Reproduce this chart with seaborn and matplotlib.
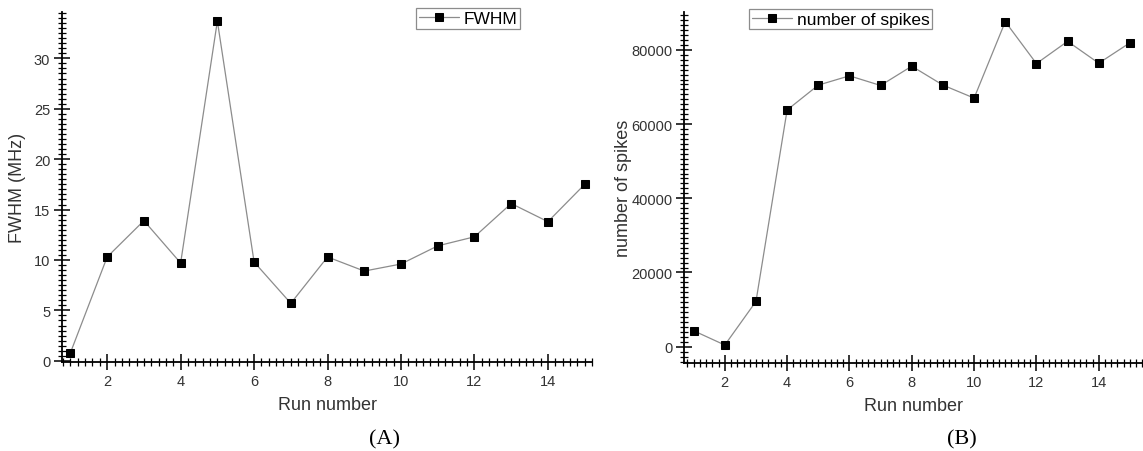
import numpy as np
import pandas as pd
import matplotlib
matplotlib.use("Agg")
import matplotlib.pyplot as plt
from matplotlib.ticker import MultipleLocator, AutoMinorLocator
import seaborn as sns

# ---- data ----
runs = [1, 2, 3, 4, 5, 6, 7, 8, 9, 10, 11, 12, 13, 14, 15]
fwhm = [0.8, 10.3, 13.9, 9.7, 33.7, 9.8, 5.7, 10.3, 8.9, 9.6, 11.4, 12.3, 15.6, 13.8, 17.5]
spikes = [4300, 450, 12200, 63800, 70500, 73000, 70400, 75600, 70500, 67000,
          87600, 76300, 82300, 76400, 81900]
xticks = [2, 4, 6, 8, 10, 12, 14]
yticks_a = [0, 5, 10, 15, 20, 25, 30]
yticks_b = [0, 20000, 40000, 60000, 80000]

sns.set_theme(style="ticks")
plt.rcParams['font.family'] = ['Liberation Sans', 'DejaVu Sans']
TXT = '#333333'

W, H = 1143, 452
fig = plt.figure(figsize=(W / 100, H / 100), dpi=100)

def fig_rect(x0, y0, x1, y1):
    return [x0 / W, 1 - y1 / H, (x1 - x0) / W, (y1 - y0) / H]

ax1 = fig.add_axes(fig_rect(62, 13, 592, 363.3))
ax2 = fig.add_axes(fig_rect(684.3, 13, 1143, 364.3))

df_a = pd.DataFrame({'run': runs, 'fwhm': fwhm})
df_b = pd.DataFrame({'run': runs, 'spikes': spikes})

style = dict(marker='s', color='#8c8c8c', markerfacecolor='black', markeredgecolor='black',
             markersize=6, linewidth=0.9)
sns.lineplot(data=df_a, x='run', y='fwhm', label='FWHM', ax=ax1, **style)
sns.lineplot(data=df_b, x='run', y='spikes', label='number of spikes', ax=ax2, **style)

ax1.set_xlim(0.77, 15.2)
ax1.set_ylim(-0.15, 34.6)
ax2.set_xlim(0.70, 15.42)
ax2.set_ylim(-4470, 90200)

for ax in (ax1, ax2):
    ax.set_xticks(xticks)
    ax.xaxis.set_minor_locator(MultipleLocator(0.2))
    for s in ('top', 'right'):
        ax.spines[s].set_visible(False)
    for s in ('left', 'bottom'):
        ax.spines[s].set_linewidth(1.3)
        ax.spines[s].set_color('black')
    ax.tick_params(which='major', direction='inout', length=11, width=1.1, color='black',
                   labelsize=10.5, labelcolor=TXT, pad=3)
    ax.tick_params(which='minor', direction='inout', length=6, width=0.9, color='black')
    ax.set_xlabel('Run number', fontsize=13, color=TXT)
    ax.xaxis.set_label_coords(0.5, -0.095)

ax1.set_yticks(yticks_a)
ax1.yaxis.set_minor_locator(MultipleLocator(0.5))
ax2.set_yticks(yticks_b)
ax2.set_yticklabels([str(v) for v in yticks_b])
ax2.yaxis.set_minor_locator(AutoMinorLocator(15))

ax1.set_ylabel('FWHM (MHz)', fontsize=13, color=TXT)
ax1.yaxis.set_label_coords((18 - 62) / 530, 0.5)
ax1.yaxis.label.set_verticalalignment('center')
ax2.set_ylabel('number of spikes', fontsize=13, color=TXT)
ax2.yaxis.set_label_coords((623 - 684.3) / 458.7, 0.5)
ax2.yaxis.label.set_verticalalignment('center')

leg_kw = dict(loc='upper left', borderaxespad=0, fancybox=False, framealpha=1,
              edgecolor='#8c8c8c', fontsize=12.5, borderpad=0.15, handlelength=2.3,
              handletextpad=0.3, labelcolor='black')
l1 = ax1.legend(bbox_to_anchor=((416 - 62) / 530, (363.3 - 9.3) / 350.3), **leg_kw)
l2 = ax2.legend(bbox_to_anchor=((749 - 684.3) / 458.7, (364.3 - 10) / 351.3), **leg_kw)
for l in (l1, l2):
    l.get_frame().set_linewidth(0.9)

fig.text(384 / W, 1 - 440 / H, '(A)', family='Liberation Serif', fontsize=16,
         ha='center', va='center', color='black')
fig.text(962 / W, 1 - 440 / H, '(B)', family='Liberation Serif', fontsize=16,
         ha='center', va='center', color='black')

fig.savefig('out.png', dpi=100)
